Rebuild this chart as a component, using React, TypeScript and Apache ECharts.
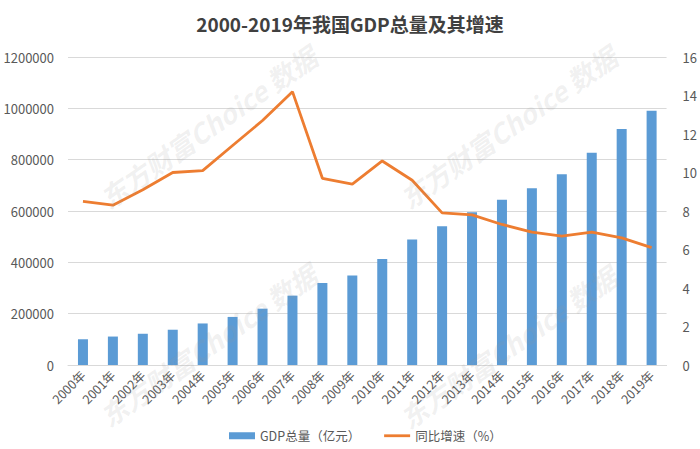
import React, { useEffect, useRef } from "react";
import * as echarts from "echarts";

const years = ["2000年","2001年","2002年","2003年","2004年","2005年","2006年","2007年","2008年","2009年","2010年","2011年","2012年","2013年","2014年","2015年","2016年","2017年","2018年","2019年"];
const gdpTotal = [100280,110863,121717,137422,161840,187319,219439,270232,319516,349081,413030,489301,540367,595244,643974,689052,743586,827122,919281,990865];
const growthRate = [8.5,8.3,9.1,10.0,10.1,11.4,12.7,14.2,9.7,9.4,10.6,9.6,7.9,7.8,7.3,6.9,6.7,6.9,6.6,6.1];
const titleText = "2000-2019年我国GDP总量及其增速";
const barName = "GDP总量（亿元）";
const lineName = "同比增速（%）";
const watermarkText = "东方财富Choice 数据";

const FONT = "'Microsoft YaHei', 'Noto Sans CJK SC', sans-serif";

export default function App() {
  const ref = useRef<HTMLDivElement>(null);
  useEffect(() => {
    document.body.style.margin = "0";
    if (!ref.current) return;
    const chart = echarts.init(ref.current, null, { renderer: "svg" });
    const wmCenters = [[208, 127], [508, 127], [208, 345], [508, 347]];
    chart.setOption({
      animation: false,
      backgroundColor: "#ffffff",
      textStyle: { fontFamily: FONT },
      title: {
        text: titleText,
        left: "center",
        top: 9,
        textStyle: { fontSize: 19, fontWeight: "bold", color: "#404040", fontFamily: FONT },
      },
      grid: { left: 68, right: 33, top: 57, bottom: 84 },
      legend: {
        bottom: 2,
        left: 224,
        itemWidth: 26,
        itemHeight: 7,
        itemGap: 24,
        textStyle: { fontSize: 12.5, color: "#595959", fontFamily: FONT },
        data: [
          { name: barName, icon: "rect" },
          { name: lineName, icon: "path://M0,0h26v2.8h-26z" },
        ],
      },
      xAxis: {
        type: "category",
        data: years,
        axisLine: { lineStyle: { color: "#d9d9d9" } },
        axisTick: { show: false },
        axisLabel: { rotate: 45, fontSize: 12.5, color: "#595959", interval: 0, margin: 8 },
      },
      yAxis: [
        {
          type: "value",
          min: 0,
          max: 1200000,
          interval: 200000,
          axisLine: { show: false },
          axisTick: { show: false },
          axisLabel: { fontSize: 13, color: "#595959", margin: 14, formatter: (v: number) => String(v) },
          splitLine: { lineStyle: { color: "#d9d9d9" } },
        },
        {
          type: "value",
          min: 0,
          max: 16,
          interval: 2,
          axisLine: { show: false },
          axisTick: { show: false },
          axisLabel: { fontSize: 13, color: "#595959", margin: 16 },
          splitLine: { show: false },
        },
      ],
      series: [
        {
          name: barName,
          type: "bar",
          data: gdpTotal,
          barWidth: 10,
          itemStyle: { color: "#5B9BD5" },
        },
        {
          name: lineName,
          type: "line",
          yAxisIndex: 1,
          data: growthRate,
          showSymbol: false,
          symbol: "none",
          lineStyle: { color: "#ED7D31", width: 2.8 },
          itemStyle: { color: "#ED7D31" },
        },
      ],
      graphic: wmCenters.map(([x, y]) => ({
        type: "text",
        x,
        y,
        rotation: (35 * Math.PI) / 180,
        z: 100,
        silent: true,
        style: {
          text: watermarkText,
          fill: "rgba(150,150,150,0.14)",
          font: "italic bold 27px 'Noto Sans CJK SC', sans-serif",
          textAlign: "center",
          textVerticalAlign: "middle",
        },
      })),
    });
    return () => chart.dispose();
  }, []);
  return <div ref={ref} style={{ width: 700, height: 449 }} />;
}
